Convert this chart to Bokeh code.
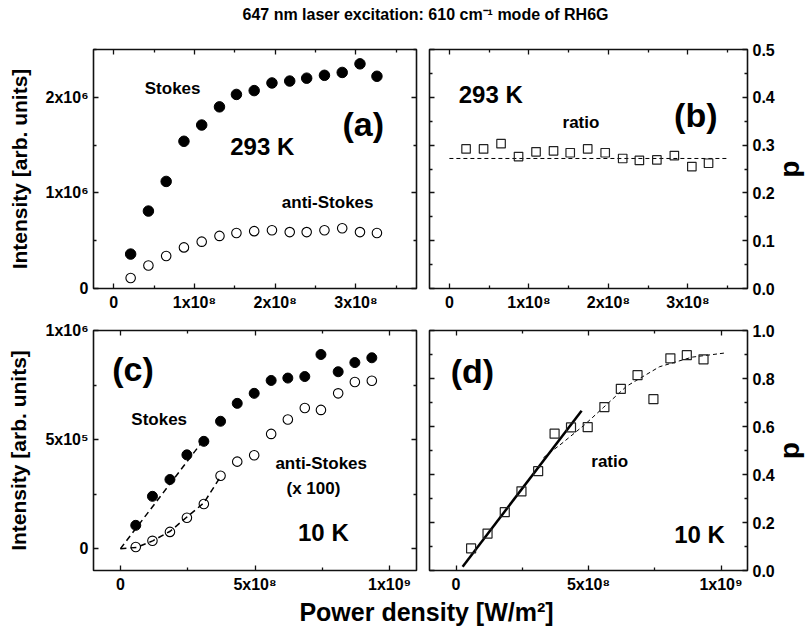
from bokeh.plotting import figure
from bokeh.models import FixedTicker, LinearAxis, Label, Range1d, CustomLabelingPolicy
from bokeh.layouts import gridplot, column
from bokeh.embed import file_html
from bokeh.resources import INLINE

# ---------------- data ----------------
# 293 K  (power density in units of 1e8 W/m^2, intensity in units of 1e6)
x_293 = [0.21, 0.43, 0.65, 0.87, 1.09, 1.31, 1.52, 1.74, 1.96, 2.18, 2.39, 2.61, 2.83, 3.05, 3.26]
stokes_293 = [0.36, 0.81, 1.12, 1.54, 1.71, 1.90, 2.03, 2.07, 2.15, 2.17, 2.20, 2.23, 2.26, 2.35, 2.22]
anti_293 = [0.11, 0.24, 0.34, 0.43, 0.49, 0.55, 0.58, 0.60, 0.61, 0.59, 0.59, 0.61, 0.63, 0.59, 0.58]
ratio_293 = [0.292, 0.292, 0.303, 0.276, 0.286, 0.288, 0.284, 0.292, 0.284, 0.272, 0.268, 0.269, 0.278, 0.255, 0.262]
fit293_x = [0.0, 3.5]
fit293_y = [0.272, 0.272]

# 10 K
x_10 = [0.57, 1.19, 1.84, 2.47, 3.10, 3.72, 4.34, 4.97, 5.60, 6.22, 6.85, 7.45, 8.09, 8.71, 9.34]
stokes_10 = [0.107, 0.240, 0.317, 0.430, 0.492, 0.584, 0.666, 0.712, 0.771, 0.782, 0.789, 0.890, 0.811, 0.853, 0.875]
anti_10 = [0.008, 0.036, 0.077, 0.142, 0.205, 0.334, 0.399, 0.428, 0.526, 0.592, 0.645, 0.636, 0.712, 0.764, 0.770]
ratio_10 = [0.092, 0.154, 0.243, 0.330, 0.414, 0.570, 0.596, 0.597, 0.681, 0.757, 0.814, 0.714, 0.884, 0.897, 0.880]
fitS10_x = [0.0, 3.1]
fitS10_y = [0.0, 0.50]
fitA10_x = [0.0, 0.6, 1.2, 1.85, 2.47, 3.1, 3.72]
fitA10_y = [0.0, 0.006, 0.036, 0.08, 0.145, 0.21, 0.33]
lin10_x = [0.25, 4.74]
lin10_y = [0.016, 0.666]
sat10_x = [3.3, 4.0, 4.84, 5.58, 6.44, 7.68, 8.91, 10.2]
sat10_y = [0.47, 0.53, 0.606, 0.681, 0.768, 0.849, 0.889, 0.907]

# tick labels
ticks_x293 = [0, 1e8, 2e8, 3e8]
labels_x293 = ["0", "1x10\u2078", "2x10\u2078", "3x10\u2078"]
ticks_y293 = [0, 1e6, 2e6]
labels_y293 = ["0", "1x10\u2076", "2x10\u2076"]
ticks_x10 = [0, 5e8, 1e9]
labels_x10 = ["0", "5x10\u2078", "1x10\u2079"]
ticks_y10 = [0, 5e5, 1e6]
labels_y10 = ["0", "5x10\u2075", "1x10\u2076"]
ticks_d_top = [0.0, 0.1, 0.2, 0.3, 0.4, 0.5]
labels_d_top = ["0.0", "0.1", "0.2", "0.3", "0.4", "0.5"]
ticks_d_bot = [0.0, 0.2, 0.4, 0.6, 0.8, 1.0]
labels_d_bot = ["0.0", "0.2", "0.4", "0.6", "0.8", "1.0"]

XS = 1e8
Y6 = 1e6

FONT = "Liberation Sans"
TICK_FS = "16px"

HIDE = CustomLabelingPolicy(code="for (const i of indices) { indices.unset(i) } return indices")


def make_fig(xr, yr, w, h, bl, br, bt, bb):
    p = figure(width=w, height=h, x_range=Range1d(*xr), y_range=Range1d(*yr),
               toolbar_location=None, output_backend="svg",
               min_border_left=bl, min_border_right=br,
               min_border_top=bt, min_border_bottom=bb,
               x_axis_location=None, y_axis_location=None)
    p.grid.visible = False
    p.outline_line_color = "#111111"
    p.outline_line_width = 1.6
    p.background_fill_color = "white"
    p.border_fill_color = "white"
    return p


def add_axis(p, side, ticks, minor, labels=None):
    ax = LinearAxis(ticker=FixedTicker(ticks=ticks, minor_ticks=minor))
    ax.axis_line_color = None
    ax.major_tick_in = 5
    ax.major_tick_out = 0
    ax.minor_tick_in = 3
    ax.minor_tick_out = 0
    ax.major_tick_line_color = "#111111"
    ax.minor_tick_line_color = "#111111"
    ax.major_tick_line_width = 1.3
    ax.minor_tick_line_width = 1.3
    if labels is not None:
        ax.major_label_overrides = {t: l for t, l in zip(ticks, labels)}
        ax.major_label_text_font = FONT
        ax.major_label_text_font_style = "bold"
        ax.major_label_text_font_size = TICK_FS
        ax.major_label_text_color = "black"
        ax.major_label_standoff = 5
    else:
        ax.major_label_policy = HIDE
        ax.major_label_text_font_size = "1px"
        ax.major_label_standoff = 0
    p.add_layout(ax, side)
    return ax


def axis_title(ax, text, size, standoff):
    ax.axis_label = text
    ax.axis_label_text_font = FONT
    ax.axis_label_text_font_style = "bold"
    ax.axis_label_text_font_size = size
    ax.axis_label_text_color = "black"
    ax.axis_label_standoff = standoff


def add_text(p, x, y, text, size, font=FONT):
    p.add_layout(Label(x=x, y=y, text=text, text_font=font, text_font_style="bold",
                       text_font_size=size, text_color="black",
                       text_align="center", text_baseline="middle"))


xr_top = (-0.25e8, 3.75e8)
xr_bot = (-1.0e8, 11.0e8)

LW, RW = 423, 388
TH, BH = 283, 282
minor_x293 = [0.5e8, 1.5e8, 2.5e8, 3.5e8]
minor_y293 = [0.5e6, 1.5e6, 2.5e6]
minor_x10 = [2.5e8, 7.5e8]
minor_y10 = [2.5e5, 7.5e5]
minor_d_top = [0.05, 0.15, 0.25, 0.35, 0.45]
minor_d_bot = [0.1, 0.3, 0.5, 0.7, 0.9]

# ---------------- (a) ----------------
pa = make_fig(xr_top, (0, 2.5e6), LW, TH, 93, 6, 19, 17)
add_axis(pa, "below", ticks_x293, minor_x293, labels_x293)
add_axis(pa, "above", ticks_x293, minor_x293)
axa = add_axis(pa, "left", ticks_y293, minor_y293, labels_y293)
axis_title(axa, "Intensity [arb. units]", "21px", 12)
add_axis(pa, "right", ticks_y293, minor_y293)
pa.scatter([v * XS for v in x_293], [v * Y6 for v in stokes_293], size=10.5,
           marker="circle", fill_color="black", line_color="black")
pa.scatter([v * XS for v in x_293], [v * Y6 for v in anti_293], size=9.5,
           marker="circle", fill_color="white", line_color="black", line_width=1.1)
add_text(pa, 0.73e8, 2.095e6, "Stokes", "17px")
add_text(pa, 1.84e8, 1.49e6, "293 K", "24px")
add_text(pa, 3.09e8, 1.72e6, "(a)", "34px")
add_text(pa, 2.65e8, 0.90e6, "anti-Stokes", "17px")

# ---------------- (b) ----------------
pb = make_fig(xr_top, (0, 0.5), RW, TH, 6, 58, 19, 17)
add_axis(pb, "below", ticks_x293, minor_x293, labels_x293)
add_axis(pb, "above", ticks_x293, minor_x293)
axb = add_axis(pb, "right", ticks_d_top, minor_d_top, labels_d_top)
axis_title(axb, "d", "28px", 0)
add_axis(pb, "left", ticks_d_top, minor_d_top)
pb.line([v * XS for v in fit293_x], fit293_y, line_color="black", line_width=1, line_dash="4 3")
pb.scatter([v * XS for v in x_293], ratio_293, size=8.5, marker="square",
           fill_color=None, line_color="#222222", line_width=1.2)
add_text(pb, 0.52e8, 0.406, "293 K", "24px")
add_text(pb, 1.655e8, 0.347, "ratio", "17px")
add_text(pb, 3.10e8, 0.364, "(b)", "34px")

# ---------------- (c) ----------------
pc = make_fig(xr_bot, (-1.0e5, 1.0e6), LW, BH, 93, 6, 17, 18)
add_axis(pc, "below", ticks_x10, minor_x10, labels_x10)
add_axis(pc, "above", ticks_x10, minor_x10)
axc = add_axis(pc, "left", ticks_y10, minor_y10, labels_y10)
axis_title(axc, "Intensity [arb. units]", "21px", 12)
add_axis(pc, "right", ticks_y10, minor_y10)
pc.line([v * XS for v in fitS10_x], [v * Y6 for v in fitS10_y], line_color="black",
        line_width=1.5, line_dash="6 4")
pc.line([v * XS for v in fitA10_x], [v * Y6 for v in fitA10_y], line_color="black",
        line_width=1.5, line_dash="6 4")
pc.scatter([v * XS for v in x_10], [v * Y6 for v in stokes_10], size=10,
           marker="circle", fill_color="black", line_color="black")
pc.scatter([v * XS for v in x_10], [v * Y6 for v in anti_10], size=9.5,
           marker="circle", fill_color="white", fill_alpha=0.0, line_color="black", line_width=1.1)
add_text(pc, 0.47e8, 0.822e6, "(c)", "34px")
add_text(pc, 1.44e8, 0.59e6, "Stokes", "17px")
add_text(pc, 7.46e8, 0.389e6, "anti-Stokes", "17px")
add_text(pc, 7.17e8, 0.276e6, "(x 100)", "17px")
add_text(pc, 7.54e8, 0.073e6, "10 K", "24px")

# ---------------- (d) ----------------
pd_ = make_fig(xr_bot, (0, 1.0), RW, BH, 6, 58, 17, 18)
add_axis(pd_, "below", ticks_x10, minor_x10, labels_x10)
add_axis(pd_, "above", ticks_x10, minor_x10)
axd = add_axis(pd_, "right", ticks_d_bot, minor_d_bot, labels_d_bot)
axis_title(axd, "d", "28px", 0)
add_axis(pd_, "left", ticks_d_bot, minor_d_bot)
pd_.line([v * XS for v in sat10_x], sat10_y, line_color="black", line_width=1, line_dash="4 3")
pd_.line([v * XS for v in lin10_x], lin10_y, line_color="black", line_width=2.5)
pd_.scatter([v * XS for v in x_10], ratio_10, size=9, marker="square",
            fill_color=None, line_color="#222222", line_width=1.2)
add_text(pd_, 0.62e8, 0.831, "(d)", "34px")
add_text(pd_, 5.80e8, 0.456, "ratio", "17px")
add_text(pd_, 9.19e8, 0.151, "10 K", "24px")


# ---------------- header / footer ----------------
def blank(h):
    f = figure(width=811, height=h, x_range=Range1d(0, 811), y_range=Range1d(0, h),
               toolbar_location=None, output_backend="svg", min_border=0,
               x_axis_location=None, y_axis_location=None)
    f.grid.visible = False
    f.outline_line_color = None
    f.border_fill_color = "white"
    f.background_fill_color = "white"
    return f


hdr = blank(30)
add_text(hdr, 425, 16, "647 nm laser excitation: 610 cm\u207b\u00b9 mode of RH6G", "16px")
ftr = blank(39)
add_text(ftr, 426, 23, "Power density [W/m\u00b2]", "25px")

grid = gridplot([[pa, pb], [pc, pd_]], toolbar_location=None)
layout = column(hdr, grid, ftr)

open("out.html", "w").write(file_html(layout, INLINE))
